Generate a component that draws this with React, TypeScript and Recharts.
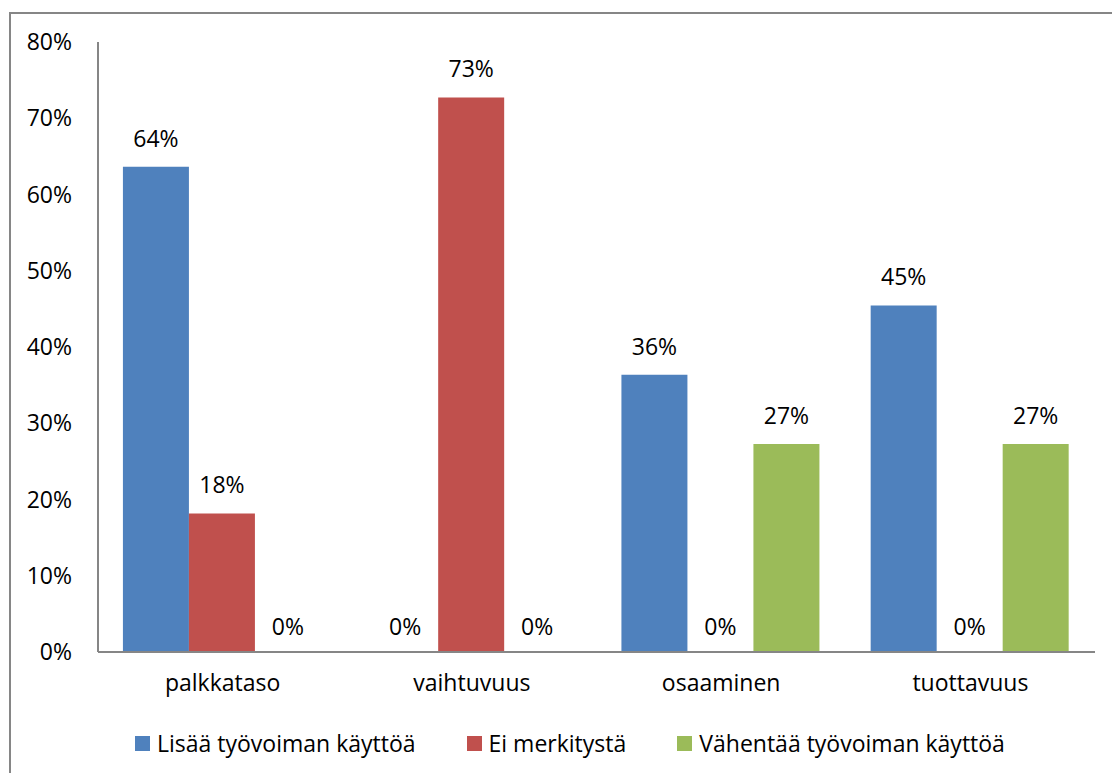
import { Bar, BarChart, LabelList, Legend, Rectangle, XAxis, YAxis } from 'recharts'

// Values are shares of 11 respondents, labels rounded to whole percent.
const categories = ['palkkataso', 'vaihtuvuus', 'osaaminen', 'tuottavuus']
const lisaa = [63.64, 0, 36.36, 45.45]
const eiMerkitysta = [18.18, 72.73, 0, 0]
const vahentaa = [0, 0, 27.27, 27.27]
const yTicks = [0, 10, 20, 30, 40, 50, 60, 70, 80]

const SERIES = [
  { key: 'lisaa', name: 'Lisää työvoiman käyttöä', color: '#4f81bd' },
  { key: 'ei', name: 'Ei merkitystä', color: '#c0504d' },
  { key: 'vahentaa', name: 'Vähentää työvoiman käyttöä', color: '#9bbb59' },
]

const data = categories.map((c, i) => ({
  name: c,
  lisaa: lisaa[i],
  ei: eiMerkitysta[i],
  vahentaa: vahentaa[i],
}))

const FONT = '"Open Sans", Lato, sans-serif'
const FS = 23
const pct = (v: any) => `${Math.round(Number(v))}%`

// custom label so 0-value bars still get their "0%" text
function TopLabel(props: any) {
  const vb = props.viewBox || {}
  const x = props.x ?? vb.x
  const y = props.y ?? vb.y
  const width = props.width ?? vb.width ?? 0
  const h = props.height ?? vb.height ?? 0
  if (x == null || y == null) return null
  const top = Math.min(Number(y), Number(y) + Number(h))
  const stub = Math.abs(Number(h)) < 1.5
  return (
    <text
      x={Number(x) + Number(width) / 2}
      y={top - (stub ? 16 : 20)}
      textAnchor="middle"
      fill="#000"
      fontSize={FS}
      fontFamily={FONT}
    >
      {pct(props.value ?? 0)}
    </text>
  )
}

// zero bars get a 1px stub (so recharts keeps them + their label) but we don't paint it
function BarShape(props: any) {
  if (!(Number(props.height) > 1.5)) return <g />
  return <Rectangle {...props} />
}

function LegendRow() {
  return (
    <div style={{ display: 'flex', paddingLeft: 135, gap: 51, fontFamily: FONT, fontSize: FS, color: '#000' }}>
      {SERIES.map((s) => (
        <div key={s.key} style={{ display: 'flex', alignItems: 'center', gap: 7 }}>
          <span style={{ width: 15, height: 15, background: s.color, display: 'inline-block' }} />
          <span>{s.name}</span>
        </div>
      ))}
    </div>
  )
}

export default function App() {
  return (
    <div style={{ position: 'absolute', left: 0, top: 0, width: 1112, height: 773, fontFamily: FONT }}>
      <div
        style={{
          position: 'absolute',
          left: 9,
          top: 12,
          width: 1120,
          height: 780,
          border: '2px solid #868686',
          boxSizing: 'border-box',
        }}
      />
      <BarChart
        width={1112}
        height={773}
        data={data}
        margin={{ top: 42, right: 17, bottom: 41, left: 0 }}
        barCategoryGap="10%"
        barGap={0}
        style={{ position: 'absolute', left: 0, top: 0 }}
      >
        <YAxis
          width={98}
          domain={[0, 80]}
          ticks={yTicks}
          interval={0}
          tickFormatter={pct}
          tickSize={0}
          tickMargin={26}
          axisLine={{ stroke: '#868686', strokeWidth: 2 }}
          tick={{ fill: '#000', fontSize: FS, fontFamily: FONT }}
        />
        <XAxis
          dataKey="name"
          height={40}
          tickSize={0}
          tickMargin={23}
          axisLine={{ stroke: '#868686', strokeWidth: 2 }}
          tick={{ fill: '#000', fontSize: FS, fontFamily: FONT }}
        />
        {SERIES.map((s) => (
          <Bar
            key={s.key}
            dataKey={s.key}
            name={s.name}
            fill={s.color}
            minPointSize={1}
            shape={(p: any) => <BarShape {...p} />}
            isAnimationActive={false}
          >
            <LabelList dataKey={s.key} content={(p: any) => <TopLabel {...p} />} />
          </Bar>
        ))}
        <Legend
          verticalAlign="bottom"
          content={() => <LegendRow />}
          wrapperStyle={{ top: 727, bottom: 'auto', left: 0, height: 40 }}
        />
      </BarChart>
    </div>
  )
}
